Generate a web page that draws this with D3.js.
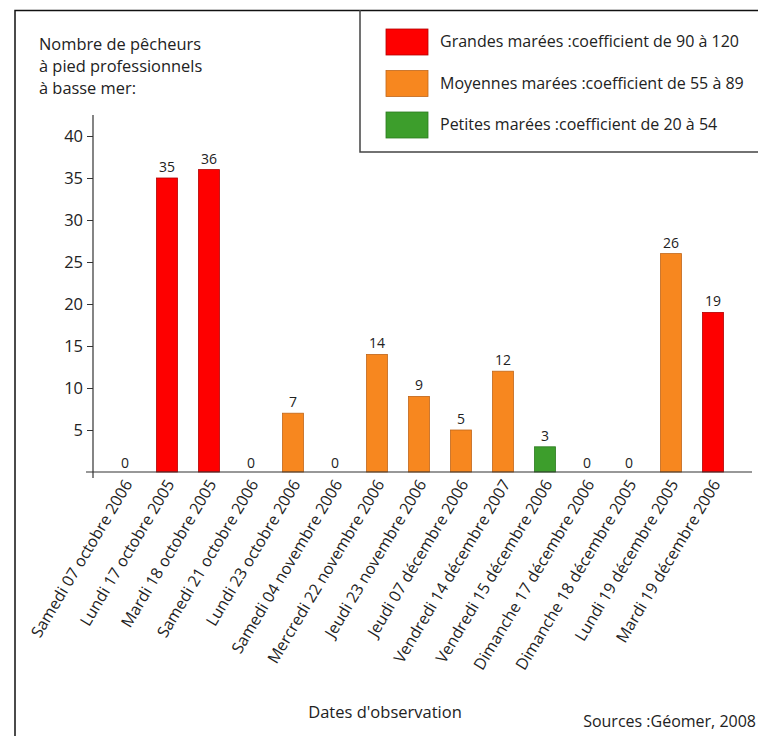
<!DOCTYPE html>
<html>
<head>
<meta charset="utf-8">
<script src="https://cdn.jsdelivr.net/npm/d3@7"></script>
<style>
  body { margin: 0; background: #fff; }
  svg text { font-family: "Open Sans", "Noto Sans", sans-serif; fill: #222; }
</style>
</head>
<body>
<div id="chart"></div>
<script>
// DATA
const dates = [
  "Samedi 07 octobre 2006", "Lundi 17 octobre 2005", "Mardi 18 octobre 2005",
  "Samedi 21 octobre 2006", "Lundi 23 octobre 2006", "Samedi 04 novembre 2006",
  "Mercredi 22 novembre 2006", "Jeudi 23 novembre 2006", "Jeudi 07 décembre 2006",
  "Vendredi 14 décembre 2007", "Vendredi 15 décembre 2006", "Dimanche 17 décembre 2006",
  "Dimanche 18 décembre 2005", "Lundi 19 décembre 2005", "Mardi 19 décembre 2006"
];
const counts = [0, 35, 36, 0, 7, 0, 14, 9, 5, 12, 3, 0, 0, 26, 19];
const tides = [null, "grandes", "grandes", null, "moyennes", null, "moyennes", "moyennes",
  "moyennes", "moyennes", "petites", null, null, "moyennes", "grandes"];
const yTicks = [5, 10, 15, 20, 25, 30, 35, 40];
const tideKeys = ["grandes", "moyennes", "petites"];
const legendLabels = [
  "Grandes marées :coefficient de 90 à 120",
  "Moyennes marées :coefficient de 55 à 89",
  "Petites marées :coefficient de 20 à 54"
];
const titleLines = ["Nombre de pêcheurs", "à pied professionnels", "à basse mer:"];

// CONSTANTS
const WIDTH = 758;
const HEIGHT = 736;
const BASE = 472;

const fillColor = d3.scaleOrdinal().domain(tideKeys).range(["#fe0000", "#f7871f", "#3d9e2c"]);
const strokeColor = d3.scaleOrdinal().domain(tideKeys).range(["#b30000", "#c0661a", "#2b7a1f"]);

const svg = d3.select("#chart").append("svg")
  .attr("width", WIDTH).attr("height", HEIGHT);

const data = dates.map((d, i) => ({ date: d, value: counts[i], tide: tides[i] }));

const x = d3.scaleBand().domain(dates).range([104, 734]).paddingInner(0.5).paddingOuter(0.25);
const y = d3.scaleLinear().domain([0, 40]).range([BASE, 136]);

// frame
svg.append("path")
  .attr("d", `M15,${HEIGHT} V10.5 H${WIDTH}`)
  .attr("fill", "none").attr("stroke", "#111").attr("stroke-width", 1.5);

// legend box
svg.append("path")
  .attr("d", `M360,10 V152 H${WIDTH}`)
  .attr("fill", "none").attr("stroke", "#444").attr("stroke-width", 1.5);

const legend = svg.append("g").selectAll("g")
  .data(tideKeys)
  .join("g")
  .attr("transform", (d, i) => `translate(386,${29 + i * 41.5})`);
legend.append("rect")
  .attr("width", 42).attr("height", 26)
  .attr("fill", d => fillColor(d))
  .attr("stroke", d => strokeColor(d)).attr("stroke-width", 0.8);
legend.append("text")
  .attr("x", 54).attr("y", 18)
  .attr("font-size", 16)
  .text((d, i) => legendLabels[i]);

// title
svg.append("text")
  .attr("font-size", 16.4)
  .selectAll("tspan")
  .data(titleLines)
  .join("tspan")
  .attr("x", 39)
  .attr("y", (d, i) => 50 + i * 22)
  .text(d => d);

// y axis
const yAxis = svg.append("g")
  .attr("transform", "translate(93,0)")
  .call(d3.axisLeft(y).tickValues(yTicks).tickSize(6).tickPadding(4));
yAxis.select(".domain").remove();
yAxis.selectAll(".tick line").attr("stroke", "#333");
yAxis.selectAll(".tick text")
  .attr("font-size", 16.5)
  .attr("font-family", "\"Open Sans\", sans-serif")
  .attr("fill", "#222");
svg.append("line")
  .attr("x1", 93).attr("x2", 93).attr("y1", 115).attr("y2", 478)
  .attr("stroke", "#333").attr("stroke-width", 1.2);

// bars
svg.append("g").selectAll("rect")
  .data(data.filter(d => d.value > 0))
  .join("rect")
  .attr("x", d => x(d.date))
  .attr("y", d => y(d.value))
  .attr("width", x.bandwidth())
  .attr("height", d => BASE - y(d.value))
  .attr("fill", d => fillColor(d.tide))
  .attr("stroke", d => strokeColor(d.tide))
  .attr("stroke-width", 0.8);

// value labels
svg.append("g").selectAll("text")
  .data(data)
  .join("text")
  .attr("x", d => x(d.date) + x.bandwidth() / 2)
  .attr("y", d => d.value > 0 ? y(d.value) - 6 : BASE - 4)
  .attr("text-anchor", "middle")
  .attr("font-size", 14)
  .text(d => d.value);

// x axis
svg.append("line")
  .attr("x1", 86).attr("x2", 752).attr("y1", BASE).attr("y2", BASE)
  .attr("stroke", "#333").attr("stroke-width", 1.2);

svg.append("g").selectAll("text")
  .data(dates)
  .join("text")
  .attr("transform", d => `translate(${x(d) + x.bandwidth() / 2 + 8},${BASE + 12}) rotate(-59)`)
  .attr("text-anchor", "end")
  .attr("font-size", 16)
  .text(d => d);

// footer
svg.append("text")
  .attr("x", 385).attr("y", 718)
  .attr("text-anchor", "middle")
  .attr("font-size", 16.5)
  .text("Dates d'observation");

svg.append("text")
  .attr("x", 756).attr("y", 727)
  .attr("text-anchor", "end")
  .attr("font-size", 16)
  .text("Sources :Géomer, 2008");
</script>
</body>
</html>
